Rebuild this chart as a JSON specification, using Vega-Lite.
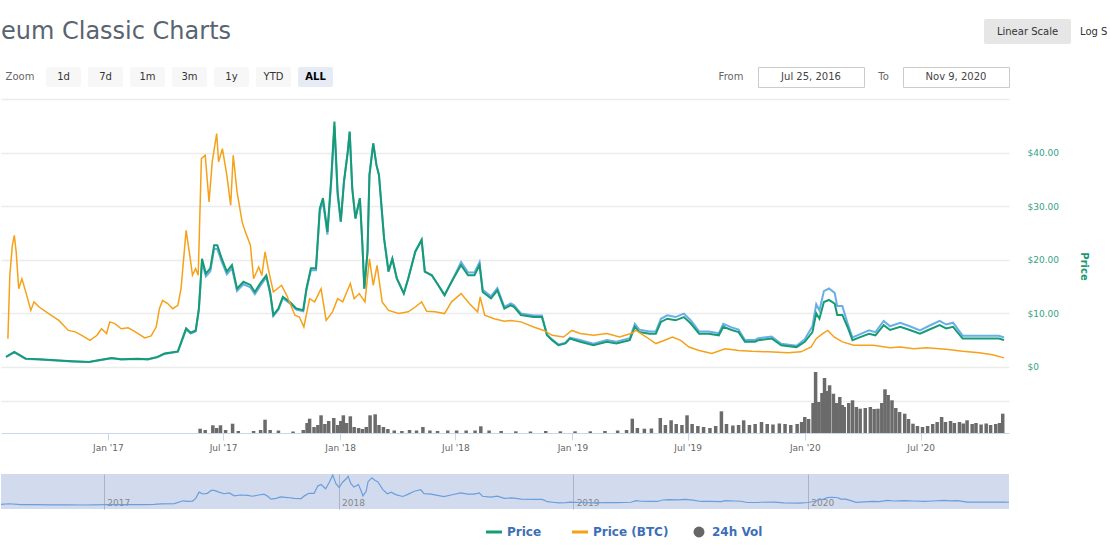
{
  "$schema": "https://vega.github.io/schema/vega-lite/v6.json",
  "background": "white",
  "padding": {"left": 0, "top": 19, "right": 0, "bottom": 0},
  "config": {"view": {"stroke": null}, "font": "DejaVu Sans"},
  "resolve": {"scale": {"color": "independent"}, "legend": {"color": "independent"}},
  "datasets": {
    "price": [
      {"d":"2016-07-25","usd":1.9,"mcap":184},{"d":"2016-08-07","usd":2.8,"mcap":272},{"d":"2016-08-25","usd":1.55,"mcap":150},{"d":"2016-09-15","usd":1.43,"mcap":139},{"d":"2016-10-11","usd":1.25,"mcap":121},{"d":"2016-11-06","usd":1.06,"mcap":103},{"d":"2016-12-02","usd":0.93,"mcap":90},{"d":"2016-12-17","usd":1.25,"mcap":121},
      {"d":"2017-01-07","usd":1.68,"mcap":163},{"d":"2017-01-22","usd":1.43,"mcap":139},{"d":"2017-02-17","usd":1.55,"mcap":150},{"d":"2017-03-05","usd":1.43,"mcap":139},{"d":"2017-03-20","usd":1.87,"mcap":181},{"d":"2017-03-31","usd":2.5,"mcap":243},{"d":"2017-04-21","usd":2.9,"mcap":281},{"d":"2017-05-04","usd":7.2,"mcap":698},{"d":"2017-05-11","usd":6.4,"mcap":621},{"d":"2017-05-19","usd":6.8,"mcap":660},{"d":"2017-05-24","usd":10.9,"mcap":1057},{"d":"2017-05-29","usd":20.2,"mcap":1959},{"d":"2017-06-04","usd":17.4,"mcap":1688},{"d":"2017-06-11","usd":18.4,"mcap":1785},{"d":"2017-06-17","usd":22.7,"mcap":2202},{"d":"2017-06-22","usd":22.7,"mcap":2202},{"d":"2017-06-29","usd":20.2,"mcap":1959},{"d":"2017-07-07","usd":17.8,"mcap":1727},{"d":"2017-07-15","usd":19.0,"mcap":1843},{"d":"2017-07-23","usd":14.6,"mcap":1416},{"d":"2017-08-02","usd":15.9,"mcap":1542},{"d":"2017-08-13","usd":15.3,"mcap":1484},{"d":"2017-08-20","usd":14.0,"mcap":1358},{"d":"2017-08-28","usd":15.5,"mcap":1504},{"d":"2017-09-07","usd":17.1,"mcap":1676},{"d":"2017-09-13","usd":14.0,"mcap":1372},{"d":"2017-09-18","usd":9.7,"mcap":951},{"d":"2017-09-26","usd":10.9,"mcap":1068},{"d":"2017-10-03","usd":13.1,"mcap":1284},{"d":"2017-10-14","usd":12.1,"mcap":1186},{"d":"2017-10-24","usd":10.9,"mcap":1068},{"d":"2017-11-04","usd":10.6,"mcap":1039},{"d":"2017-11-09","usd":14.6,"mcap":1431},{"d":"2017-11-16","usd":18.4,"mcap":1803},{"d":"2017-11-24","usd":18.4,"mcap":1803},{"d":"2017-11-30","usd":29.6,"mcap":2901},{"d":"2017-12-05","usd":31.5,"mcap":3087},{"d":"2017-12-12","usd":25.2,"mcap":2470},{"d":"2017-12-18","usd":35.2,"mcap":3450},{"d":"2017-12-23","usd":45.8,"mcap":4488},{"d":"2017-12-28","usd":32.7,"mcap":3205},
      {"d":"2018-01-02","usd":27.1,"mcap":2710},{"d":"2018-01-07","usd":34.6,"mcap":3460},{"d":"2018-01-13","usd":40.2,"mcap":4020},{"d":"2018-01-16","usd":43.9,"mcap":4390},{"d":"2018-01-20","usd":33.3,"mcap":3330},{"d":"2018-01-25","usd":27.7,"mcap":2770},{"d":"2018-02-01","usd":31.5,"mcap":3150},{"d":"2018-02-05","usd":22.7,"mcap":2270},{"d":"2018-02-08","usd":14.6,"mcap":1460},{"d":"2018-02-13","usd":21.5,"mcap":2150},{"d":"2018-02-16","usd":35.8,"mcap":3580},{"d":"2018-02-22","usd":41.7,"mcap":4170},{"d":"2018-02-27","usd":37.7,"mcap":3770},{"d":"2018-03-03","usd":35.8,"mcap":3580},{"d":"2018-03-11","usd":24.0,"mcap":2400},{"d":"2018-03-18","usd":17.8,"mcap":1780},{"d":"2018-03-24","usd":20.2,"mcap":2020},{"d":"2018-03-31","usd":16.5,"mcap":1650},{"d":"2018-04-11","usd":13.7,"mcap":1370},{"d":"2018-04-18","usd":16.5,"mcap":1650},{"d":"2018-04-29","usd":21.5,"mcap":2150},{"d":"2018-05-09","usd":23.7,"mcap":2370},{"d":"2018-05-14","usd":17.8,"mcap":1780},{"d":"2018-05-25","usd":17.1,"mcap":1710},{"d":"2018-06-04","usd":15.3,"mcap":1530},{"d":"2018-06-14","usd":13.4,"mcap":1340},{"d":"2018-06-25","usd":15.9,"mcap":1590},{"d":"2018-07-10","usd":19.0,"mcap":1957},{"d":"2018-07-21","usd":17.1,"mcap":1761},{"d":"2018-07-31","usd":17.1,"mcap":1761},{"d":"2018-08-08","usd":19.0,"mcap":1957},{"d":"2018-08-13","usd":14.0,"mcap":1442},{"d":"2018-08-26","usd":12.8,"mcap":1318},{"d":"2018-09-05","usd":14.3,"mcap":1473},{"d":"2018-09-16","usd":10.9,"mcap":1123},{"d":"2018-09-26","usd":11.5,"mcap":1185},{"d":"2018-10-01","usd":11.2,"mcap":1154},{"d":"2018-10-12","usd":9.7,"mcap":999},{"d":"2018-11-01","usd":9.3,"mcap":958},{"d":"2018-11-14","usd":9.3,"mcap":958},{"d":"2018-11-22","usd":5.9,"mcap":608},{"d":"2018-11-30","usd":5.0,"mcap":515},{"d":"2018-12-10","usd":4.05,"mcap":417},{"d":"2018-12-21","usd":4.4,"mcap":453},{"d":"2018-12-28","usd":5.3,"mcap":546},
      {"d":"2019-01-13","usd":4.7,"mcap":503},{"d":"2019-02-03","usd":4.05,"mcap":433},{"d":"2019-02-24","usd":4.7,"mcap":503},{"d":"2019-03-11","usd":4.4,"mcap":471},{"d":"2019-04-01","usd":5.0,"mcap":535},{"d":"2019-04-09","usd":7.5,"mcap":803},{"d":"2019-04-16","usd":6.5,"mcap":696},{"d":"2019-05-02","usd":6.2,"mcap":663},{"d":"2019-05-12","usd":6.2,"mcap":663},{"d":"2019-05-20","usd":8.4,"mcap":899},{"d":"2019-05-30","usd":9.0,"mcap":963},{"d":"2019-06-12","usd":8.7,"mcap":931},{"d":"2019-06-25","usd":9.3,"mcap":995},{"d":"2019-07-06","usd":8.1,"mcap":867},{"d":"2019-07-19","usd":6.2,"mcap":663},{"d":"2019-08-03","usd":6.2,"mcap":663},{"d":"2019-08-19","usd":5.9,"mcap":631},{"d":"2019-08-26","usd":7.5,"mcap":803},{"d":"2019-09-08","usd":6.9,"mcap":738},{"d":"2019-09-19","usd":6.5,"mcap":696},{"d":"2019-09-29","usd":4.7,"mcap":503},{"d":"2019-10-15","usd":4.7,"mcap":503},{"d":"2019-10-20","usd":5.0,"mcap":535},{"d":"2019-11-10","usd":5.3,"mcap":567},{"d":"2019-11-25","usd":4.05,"mcap":433},{"d":"2019-12-19","usd":3.7,"mcap":396},
      {"d":"2020-01-01","usd":4.7,"mcap":517},{"d":"2020-01-13","usd":6.5,"mcap":761},{"d":"2020-01-19","usd":10.0,"mcap":1170},{"d":"2020-01-24","usd":9.0,"mcap":1053},{"d":"2020-01-31","usd":12.1,"mcap":1416},{"d":"2020-02-08","usd":12.5,"mcap":1463},{"d":"2020-02-17","usd":11.8,"mcap":1381},{"d":"2020-02-21","usd":9.7,"mcap":1135},{"d":"2020-02-29","usd":9.7,"mcap":1135},{"d":"2020-03-08","usd":7.5,"mcap":825},{"d":"2020-03-16","usd":5.0,"mcap":550},{"d":"2020-03-29","usd":5.6,"mcap":616},{"d":"2020-04-11","usd":6.2,"mcap":682},{"d":"2020-04-21","usd":5.9,"mcap":649},{"d":"2020-05-04","usd":7.8,"mcap":858},{"d":"2020-05-14","usd":6.9,"mcap":759},{"d":"2020-05-30","usd":7.5,"mcap":825},{"d":"2020-06-14","usd":6.9,"mcap":759},{"d":"2020-06-30","usd":6.2,"mcap":682},{"d":"2020-07-13","usd":6.9,"mcap":759},{"d":"2020-07-31","usd":7.8,"mcap":858},{"d":"2020-08-10","usd":7.2,"mcap":792},{"d":"2020-08-21","usd":7.5,"mcap":825},{"d":"2020-09-05","usd":5.3,"mcap":583},{"d":"2020-09-21","usd":5.3,"mcap":583},{"d":"2020-10-12","usd":5.3,"mcap":583},{"d":"2020-11-01","usd":5.3,"mcap":583},{"d":"2020-11-09","usd":5.0,"mcap":550}
    ],
    "btc": [
      {"d":"2016-07-28","btc":0.00099},{"d":"2016-07-31","btc":0.00321},{"d":"2016-08-04","btc":0.00426},{"d":"2016-08-07","btc":0.00461},{"d":"2016-08-10","btc":0.00403},{"d":"2016-08-14","btc":0.00274},{"d":"2016-08-19","btc":0.00309},{"d":"2016-08-25","btc":0.00263},{"d":"2016-09-02","btc":0.00198},{"d":"2016-09-07","btc":0.00228},{"d":"2016-09-15","btc":0.0021},{"d":"2016-09-30","btc":0.00187},{"d":"2016-10-16","btc":0.00163},{"d":"2016-10-31","btc":0.00128},{"d":"2016-11-11","btc":0.00123},{"d":"2016-11-21","btc":0.00111},{"d":"2016-12-04","btc":0.00093},{"d":"2016-12-15","btc":0.00111},{"d":"2016-12-22","btc":0.00134},{"d":"2016-12-30","btc":0.00117},
      {"d":"2017-01-04","btc":0.00158},{"d":"2017-01-12","btc":0.00152},{"d":"2017-01-22","btc":0.00134},{"d":"2017-02-02","btc":0.00137},{"d":"2017-02-12","btc":0.00125},{"d":"2017-02-28","btc":0.00102},{"d":"2017-03-10","btc":0.00109},{"d":"2017-03-18","btc":0.0014},{"d":"2017-03-23","btc":0.00204},{"d":"2017-03-28","btc":0.00233},{"d":"2017-04-05","btc":0.00222},{"d":"2017-04-13","btc":0.00204},{"d":"2017-04-21","btc":0.00216},{"d":"2017-04-26","btc":0.00274},{"d":"2017-05-04","btc":0.00478},{"d":"2017-05-09","btc":0.00403},{"d":"2017-05-14","btc":0.00321},{"d":"2017-05-19","btc":0.00344},{"d":"2017-05-23","btc":0.00321},{"d":"2017-05-28","btc":0.00729},{"d":"2017-06-03","btc":0.00741},{"d":"2017-06-09","btc":0.00578},{"d":"2017-06-14","btc":0.00718},{"d":"2017-06-21","btc":0.00817},{"d":"2017-06-24","btc":0.00718},{"d":"2017-06-30","btc":0.00764},{"d":"2017-07-07","btc":0.00671},{"d":"2017-07-13","btc":0.00566},{"d":"2017-07-17","btc":0.00741},{"d":"2017-07-23","btc":0.00613},{"d":"2017-07-31","btc":0.00508},{"d":"2017-08-05","btc":0.00473},{"d":"2017-08-13","btc":0.00426},{"d":"2017-08-18","btc":0.00309},{"d":"2017-08-26","btc":0.0035},{"d":"2017-08-31","btc":0.00321},{"d":"2017-09-05","btc":0.00403},{"d":"2017-09-10","btc":0.00344},{"d":"2017-09-18","btc":0.00263},{"d":"2017-10-01","btc":0.00286},{"d":"2017-10-09","btc":0.00251},{"d":"2017-10-22","btc":0.00181},{"d":"2017-10-29","btc":0.00175},{"d":"2017-11-05","btc":0.0014},{"d":"2017-11-14","btc":0.00239},{"d":"2017-11-22","btc":0.00228},{"d":"2017-12-02","btc":0.00274},{"d":"2017-12-10","btc":0.00163},{"d":"2017-12-20","btc":0.00193},{"d":"2017-12-28","btc":0.00239},
      {"d":"2018-01-05","btc":0.00228},{"d":"2018-01-17","btc":0.00292},{"d":"2018-01-23","btc":0.00239},{"d":"2018-01-31","btc":0.00257},{"d":"2018-02-09","btc":0.00228},{"d":"2018-02-16","btc":0.00379},{"d":"2018-02-22","btc":0.00286},{"d":"2018-02-28","btc":0.00356},{"d":"2018-03-08","btc":0.00228},{"d":"2018-03-18","btc":0.00198},{"d":"2018-04-03","btc":0.00187},{"d":"2018-04-18","btc":0.00193},{"d":"2018-04-29","btc":0.0021},{"d":"2018-05-09","btc":0.00228},{"d":"2018-05-17","btc":0.00195},{"d":"2018-05-30","btc":0.00193},{"d":"2018-06-14","btc":0.00187},{"d":"2018-06-25","btc":0.00228},{"d":"2018-07-10","btc":0.00257},{"d":"2018-07-23","btc":0.00222},{"d":"2018-08-05","btc":0.00193},{"d":"2018-08-09","btc":0.00245},{"d":"2018-08-16","btc":0.00181},{"d":"2018-08-31","btc":0.00169},{"d":"2018-09-16","btc":0.0016},{"d":"2018-09-26","btc":0.00163},{"d":"2018-10-12","btc":0.00158},{"d":"2018-11-01","btc":0.0014},{"d":"2018-11-17","btc":0.00128},{"d":"2018-11-30","btc":0.00111},{"d":"2018-12-18","btc":0.00105},{"d":"2018-12-31","btc":0.00128},
      {"d":"2019-01-13","btc":0.00117},{"d":"2019-02-03","btc":0.00111},{"d":"2019-02-24","btc":0.00117},{"d":"2019-03-16","btc":0.00105},{"d":"2019-04-03","btc":0.00117},{"d":"2019-04-11","btc":0.00128},{"d":"2019-04-27","btc":0.00105},{"d":"2019-05-12","btc":0.00082},{"d":"2019-05-25","btc":0.00093},{"d":"2019-06-07","btc":0.00105},{"d":"2019-06-20","btc":0.00093},{"d":"2019-07-03","btc":0.0007},{"d":"2019-07-19","btc":0.00058},{"d":"2019-08-08","btc":0.00047},{"d":"2019-08-29","btc":0.00064},{"d":"2019-09-19","btc":0.00058},{"d":"2019-10-10","btc":0.00055},{"d":"2019-11-05","btc":0.00053},{"d":"2019-12-06","btc":0.0005},{"d":"2019-12-26","btc":0.00053},
      {"d":"2020-01-11","btc":0.0007},{"d":"2020-01-19","btc":0.00099},{"d":"2020-01-29","btc":0.00117},{"d":"2020-02-06","btc":0.00128},{"d":"2020-02-16","btc":0.00105},{"d":"2020-02-29","btc":0.00088},{"d":"2020-03-18","btc":0.00076},{"d":"2020-04-18","btc":0.00076},{"d":"2020-05-14","btc":0.00067},{"d":"2020-05-30","btc":0.0007},{"d":"2020-06-20","btc":0.00064},{"d":"2020-07-10","btc":0.00067},{"d":"2020-08-10","btc":0.00062},{"d":"2020-09-05","btc":0.00055},{"d":"2020-10-01","btc":0.0005},{"d":"2020-10-22","btc":0.00043},{"d":"2020-11-09","btc":0.00032}
    ],
    "vol": [
      {"d":"2017-05-26","vol":403},{"d":"2017-06-03","vol":281},{"d":"2017-06-15","vol":722},{"d":"2017-06-21","vol":469},{"d":"2017-06-27","vol":722},{"d":"2017-07-05","vol":281},{"d":"2017-07-16","vol":872},{"d":"2017-07-25","vol":188},{"d":"2017-08-18","vol":188},{"d":"2017-08-29","vol":281},{"d":"2017-09-05","vol":1247},{"d":"2017-09-13","vol":281},{"d":"2017-09-26","vol":234},{"d":"2017-10-19","vol":141},{"d":"2017-11-04","vol":281},{"d":"2017-11-10","vol":938},{"d":"2017-11-14","vol":1341},{"d":"2017-11-21","vol":563},{"d":"2017-11-27","vol":750},{"d":"2017-12-02","vol":1659},{"d":"2017-12-08","vol":844},{"d":"2017-12-14","vol":1125},{"d":"2017-12-22","vol":1406},{"d":"2017-12-28","vol":750},
      {"d":"2018-01-02","vol":1125},{"d":"2018-01-06","vol":1659},{"d":"2018-01-11","vol":938},{"d":"2018-01-17","vol":1566},{"d":"2018-01-23","vol":563},{"d":"2018-01-30","vol":469},{"d":"2018-02-05","vol":375},{"d":"2018-02-11","vol":563},{"d":"2018-02-17","vol":1659},{"d":"2018-02-25","vol":1753},{"d":"2018-03-03","vol":750},{"d":"2018-03-10","vol":563},{"d":"2018-03-17","vol":375},{"d":"2018-03-27","vol":234},{"d":"2018-04-08","vol":188},{"d":"2018-04-20","vol":281},{"d":"2018-05-01","vol":234},{"d":"2018-05-11","vol":563},{"d":"2018-05-22","vol":234},{"d":"2018-06-03","vol":188},{"d":"2018-06-19","vol":234},{"d":"2018-07-03","vol":234},{"d":"2018-07-18","vol":234},{"d":"2018-08-01","vol":234},{"d":"2018-08-10","vol":628},{"d":"2018-08-23","vol":234},{"d":"2018-09-11","vol":188},{"d":"2018-10-04","vol":159},{"d":"2018-10-27","vol":141},{"d":"2018-11-20","vol":188},{"d":"2018-12-13","vol":159},
      {"d":"2019-01-05","vol":159},{"d":"2019-01-29","vol":159},{"d":"2019-02-21","vol":188},{"d":"2019-03-13","vol":234},{"d":"2019-03-27","vol":281},{"d":"2019-04-05","vol":1341},{"d":"2019-04-13","vol":469},{"d":"2019-04-24","vol":403},{"d":"2019-05-05","vol":422},{"d":"2019-05-19","vol":1406},{"d":"2019-05-27","vol":750},{"d":"2019-06-05","vol":1191},{"d":"2019-06-13","vol":844},{"d":"2019-06-22","vol":750},{"d":"2019-06-30","vol":1659},{"d":"2019-07-08","vol":844},{"d":"2019-07-17","vol":656},{"d":"2019-07-26","vol":563},{"d":"2019-08-05","vol":469},{"d":"2019-08-14","vol":656},{"d":"2019-08-23","vol":2034},{"d":"2019-08-31","vol":844},{"d":"2019-09-10","vol":703},{"d":"2019-09-19","vol":750},{"d":"2019-09-27","vol":1191},{"d":"2019-10-06","vol":750},{"d":"2019-10-15","vol":844},{"d":"2019-10-25","vol":1031},{"d":"2019-11-03","vol":844},{"d":"2019-11-12","vol":797},{"d":"2019-11-22","vol":891},{"d":"2019-12-01","vol":844},{"d":"2019-12-10","vol":750},{"d":"2019-12-20","vol":844},{"d":"2019-12-27","vol":1031},
      {"d":"2020-01-01","vol":1500},{"d":"2020-01-07","vol":1313},{"d":"2020-01-14","vol":2813},{"d":"2020-01-18","vol":5719},{"d":"2020-01-23","vol":2906},{"d":"2020-01-28","vol":3750},{"d":"2020-02-01","vol":5156},{"d":"2020-02-06","vol":3938},{"d":"2020-02-09","vol":4472},{"d":"2020-02-15","vol":3684},{"d":"2020-02-20","vol":2813},{"d":"2020-02-25","vol":3375},{"d":"2020-02-29","vol":2625},{"d":"2020-03-03","vol":2438},{"d":"2020-03-10","vol":2813},{"d":"2020-03-16","vol":3066},{"d":"2020-03-22","vol":2438},{"d":"2020-03-28","vol":2278},{"d":"2020-04-05","vol":2344},{"d":"2020-04-13","vol":2438},{"d":"2020-04-19","vol":2250},{"d":"2020-04-25","vol":2278},{"d":"2020-05-01","vol":2813},{"d":"2020-05-06","vol":4097},{"d":"2020-05-11","vol":3563},{"d":"2020-05-17","vol":3066},{"d":"2020-05-23","vol":2344},{"d":"2020-05-29","vol":1969},{"d":"2020-06-06","vol":1809},{"d":"2020-06-12","vol":1313},{"d":"2020-06-19","vol":872},{"d":"2020-06-26","vol":656},{"d":"2020-07-04","vol":563},{"d":"2020-07-12","vol":656},{"d":"2020-07-20","vol":844},{"d":"2020-07-27","vol":1031},{"d":"2020-08-03","vol":1500},{"d":"2020-08-09","vol":1031},{"d":"2020-08-17","vol":1125},{"d":"2020-08-23","vol":938},{"d":"2020-08-31","vol":1031},{"d":"2020-09-06","vol":891},{"d":"2020-09-12","vol":1191},{"d":"2020-09-20","vol":844},{"d":"2020-09-26","vol":938},{"d":"2020-10-04","vol":797},{"d":"2020-10-12","vol":891},{"d":"2020-10-19","vol":750},{"d":"2020-10-27","vol":844},{"d":"2020-11-02","vol":938},{"d":"2020-11-07","vol":1809}
    ]
  },
  "spacing": 11,
  "vconcat": [
    {
      "spacing": 22,
      "vconcat": [
        {
          "bounds": "flush",
          "spacing": 0,
          "hconcat": [
            {"width": 230, "height": 25, "data": {"values": [{"t": "eum Classic Charts"}]}, "mark": {"type": "text", "fontSize": 24, "color": "#5a6470"}, "encoding": {"text": {"field": "t"}}},
            {"width": 753, "height": 25, "data": {"values": [{"t": ""}]}, "mark": {"type": "text"}, "encoding": {"text": {"field": "t"}}},
            {"width": 87, "height": 25, "view": {"fill": "#e6e6e6", "cornerRadius": 2}, "data": {"values": [{"t": "Linear Scale"}]}, "mark": {"type": "text", "fontSize": 10, "color": "#333333"}, "encoding": {"text": {"field": "t"}}},
            {"width": 9, "height": 25, "data": {"values": [{"t": ""}]}, "mark": {"type": "text"}, "encoding": {"text": {"field": "t"}}},
            {"width": 31, "height": 25, "data": {"values": [{"t": "Log Scale"}]}, "mark": {"type": "text", "fontSize": 10, "color": "#333333", "align": "left", "dx": -15.5, "limit": 31, "ellipsis": "\u200b"}, "encoding": {"text": {"field": "t"}}}
          ]
        },
        {
          "bounds": "flush",
          "spacing": 7,
          "hconcat": [
            {"width": 38, "height": 20, "data": {"values": [{"t": "Zoom"}]}, "mark": {"type": "text", "fontSize": 10, "color": "#666666"}, "encoding": {"text": {"field": "t"}}},
            {"width": 35, "height": 20, "view": {"fill": "#f7f7f7", "cornerRadius": 2}, "data": {"values": [{"t": "1d"}]}, "mark": {"type": "text", "fontSize": 10, "color": "#333333"}, "encoding": {"text": {"field": "t"}}},
            {"width": 35, "height": 20, "view": {"fill": "#f7f7f7", "cornerRadius": 2}, "data": {"values": [{"t": "7d"}]}, "mark": {"type": "text", "fontSize": 10, "color": "#333333"}, "encoding": {"text": {"field": "t"}}},
            {"width": 35, "height": 20, "view": {"fill": "#f7f7f7", "cornerRadius": 2}, "data": {"values": [{"t": "1m"}]}, "mark": {"type": "text", "fontSize": 10, "color": "#333333"}, "encoding": {"text": {"field": "t"}}},
            {"width": 35, "height": 20, "view": {"fill": "#f7f7f7", "cornerRadius": 2}, "data": {"values": [{"t": "3m"}]}, "mark": {"type": "text", "fontSize": 10, "color": "#333333"}, "encoding": {"text": {"field": "t"}}},
            {"width": 35, "height": 20, "view": {"fill": "#f7f7f7", "cornerRadius": 2}, "data": {"values": [{"t": "1y"}]}, "mark": {"type": "text", "fontSize": 10, "color": "#333333"}, "encoding": {"text": {"field": "t"}}},
            {"width": 35, "height": 20, "view": {"fill": "#f7f7f7", "cornerRadius": 2}, "data": {"values": [{"t": "YTD"}]}, "mark": {"type": "text", "fontSize": 10, "color": "#333333"}, "encoding": {"text": {"field": "t"}}},
            {"width": 35, "height": 20, "view": {"fill": "#e6ebf5", "cornerRadius": 2}, "data": {"values": [{"t": "ALL"}]}, "mark": {"type": "text", "fontSize": 10, "fontWeight": "bold", "color": "#000000"}, "encoding": {"text": {"field": "t"}}},
            {"width": 364, "height": 20, "data": {"values": [{"t": ""}]}, "mark": {"type": "text"}, "encoding": {"text": {"field": "t"}}},
            {"width": 40, "height": 20, "data": {"values": [{"t": "From"}]}, "mark": {"type": "text", "fontSize": 10, "color": "#666666"}, "encoding": {"text": {"field": "t"}}},
            {"width": 106, "height": 20, "view": {"fill": "#ffffff", "stroke": "#cccccc"}, "data": {"values": [{"t": "Jul 25, 2016"}]}, "mark": {"type": "text", "fontSize": 10, "color": "#444444"}, "encoding": {"text": {"field": "t"}}},
            {"width": 25, "height": 20, "data": {"values": [{"t": "To"}]}, "mark": {"type": "text", "fontSize": 10, "color": "#666666"}, "encoding": {"text": {"field": "t"}}},
            {"width": 106, "height": 20, "view": {"fill": "#ffffff", "stroke": "#cccccc"}, "data": {"values": [{"t": "Nov 9, 2020"}]}, "mark": {"type": "text", "fontSize": 10, "color": "#444444"}, "encoding": {"text": {"field": "t"}}}
          ]
        }
      ]
    },
    {
      "spacing": 22,
      "resolve": {"scale": {"color": "independent"}, "legend": {"color": "independent"}},
      "vconcat": [
        {
          "width": 1008,
          "height": 334,
          "encoding": {
            "x": {
              "field": "d", "type": "temporal",
              "scale": {"type": "utc", "domain": [{"year": 2016, "month": 7, "date": 25, "utc": true}, {"year": 2020, "month": 11, "date": 9, "utc": true}]},
              "axis": {
                "values": [{"year": 2017, "month": 1, "date": 1, "utc": true}, {"year": 2017, "month": 7, "date": 1, "utc": true}, {"year": 2018, "month": 1, "date": 1, "utc": true}, {"year": 2018, "month": 7, "date": 1, "utc": true}, {"year": 2019, "month": 1, "date": 1, "utc": true}, {"year": 2019, "month": 7, "date": 1, "utc": true}, {"year": 2020, "month": 1, "date": 1, "utc": true}, {"year": 2020, "month": 7, "date": 1, "utc": true}],
                "format": "%b '%y", "title": null, "grid": false,
                "labelColor": "#666666", "labelFontSize": 9, "labelPadding": 3, "labelFlush": false,
                "tickSize": 7, "tickColor": "#ccd6eb", "domainColor": "#ccd6eb"
              }
            }
          },
          "layer": [
            {
              "data": {"name": "vol"},
              "mark": {"type": "bar", "color": "#6b6b6b", "width": 3.5, "clip": true},
              "encoding": {
                "y": {"field": "vol", "type": "quantitative", "scale": {"domain": [0, 31313], "nice": false},
                  "axis": {"orient": "left", "values": [3000], "grid": true, "gridColor": "#ececec", "gridWidth": 1.5, "labels": false, "ticks": false, "domain": false, "title": null, "minExtent": 0, "maxExtent": 0}}
              }
            },
            {
              "data": {"name": "price"},
              "mark": {"type": "line", "color": "#6aaee8", "strokeWidth": 2, "clip": true},
              "encoding": {"y": {"field": "mcap", "type": "quantitative", "scale": {"domain": [-1232.7, 5000], "nice": false}, "axis": null}}
            },
            {
              "data": {"name": "price"},
              "mark": {"type": "line", "color": "#169c74", "strokeWidth": 2, "clip": true},
              "encoding": {
                "y": {"field": "usd", "type": "quantitative", "scale": {"domain": [-12.327, 50], "nice": false},
                  "axis": {"orient": "right", "values": [0, 10, 20, 30, 40, 50], "grid": true, "gridColor": "#ececec", "gridWidth": 1.5, "domain": false, "ticks": false,
                    "labelPadding": 18, "labelColor": "#35a27f", "labelFontSize": 9,
                    "labelExpr": "datum.value === 0 ? '$0' : (datum.value === 50 ? '' : '$' + format(datum.value, '.2f'))",
                    "title": "Price", "titleColor": "#1b9b73", "titleFontSize": 10, "titleFontWeight": "bold", "titlePadding": 20, "titleAngle": 90}}
              }
            },
            {
              "data": {"name": "btc"},
              "mark": {"type": "line", "color": "#f6a11a", "strokeWidth": 1.5, "clip": true},
              "encoding": {"y": {"field": "btc", "type": "quantitative", "scale": {"domain": [-0.00231, 0.00938], "nice": false}, "axis": null}}
            }
          ],
          "resolve": {"scale": {"y": "independent"}, "axis": {"y": "independent"}}
        },
        {
          "width": 1008,
          "height": 35,
          "view": {"fill": "#d2daed", "stroke": null},
          "layer": [
            {
              "data": {"name": "price"},
              "mark": {"type": "line", "color": "#6a9fdc", "strokeWidth": 1.2, "clip": true},
              "encoding": {
                "x": {
                  "field": "d", "type": "temporal",
                  "scale": {"type": "utc", "domain": [{"year": 2016, "month": 7, "date": 25, "utc": true}, {"year": 2020, "month": 11, "date": 9, "utc": true}]},
                  "axis": {
                    "values": [{"year": 2017, "month": 1, "date": 1, "utc": true}, {"year": 2018, "month": 1, "date": 1, "utc": true}, {"year": 2019, "month": 1, "date": 1, "utc": true}, {"year": 2020, "month": 1, "date": 1, "utc": true}],
                    "format": "%Y", "title": null, "grid": true, "gridColor": "#aab3c8", "gridWidth": 1,
                    "ticks": false, "tickSize": 0, "domain": false,
                    "labelAlign": "left", "labelBaseline": "alphabetic", "labelPadding": -4, "labelOffset": 3,
                    "labelColor": "#888888", "labelFontSize": 9, "labelFlush": false, "minExtent": 0
                  }
                },
                "y": {"field": "usd", "type": "quantitative", "scale": {"domain": [-5.06, 47.3], "nice": false}, "axis": null}
              }
            },
            {
              "data": {"values": []},
              "mark": {"type": "line"},
              "encoding": {
                "x": {"field": "d", "type": "temporal"},
                "y": {"field": "usd", "type": "quantitative"},
                "color": {
                  "datum": "Price", "type": "nominal",
                  "scale": {"domain": ["Price", "Price (BTC)", "24h Vol"], "range": ["#169c74", "#f6a11a", "#666666"]},
                  "legend": {
                    "orient": "none", "legendX": 487, "legendY": 52, "direction": "horizontal", "title": null,
                    "labelColor": "#3d6fb6", "labelFontSize": 12, "labelFontWeight": "bold",
                    "symbolType": "stroke", "symbolStrokeWidth": 3, "symbolSize": 256, "columnPadding": 24, "labelOffset": 7,
                    "encode": {"symbols": {"update": {
                      "shape": {"signal": "datum.value === '24h Vol' ? 'circle' : 'stroke'"},
                      "fill": {"signal": "datum.value === '24h Vol' ? '#666666' : 'transparent'"},
                      "size": {"signal": "datum.value === '24h Vol' ? 120 : 256"},
                      "strokeWidth": {"signal": "datum.value === '24h Vol' ? 0 : 3"}
                    }}}
                  }
                }
              }
            }
          ]
        }
      ]
    }
  ]
}
